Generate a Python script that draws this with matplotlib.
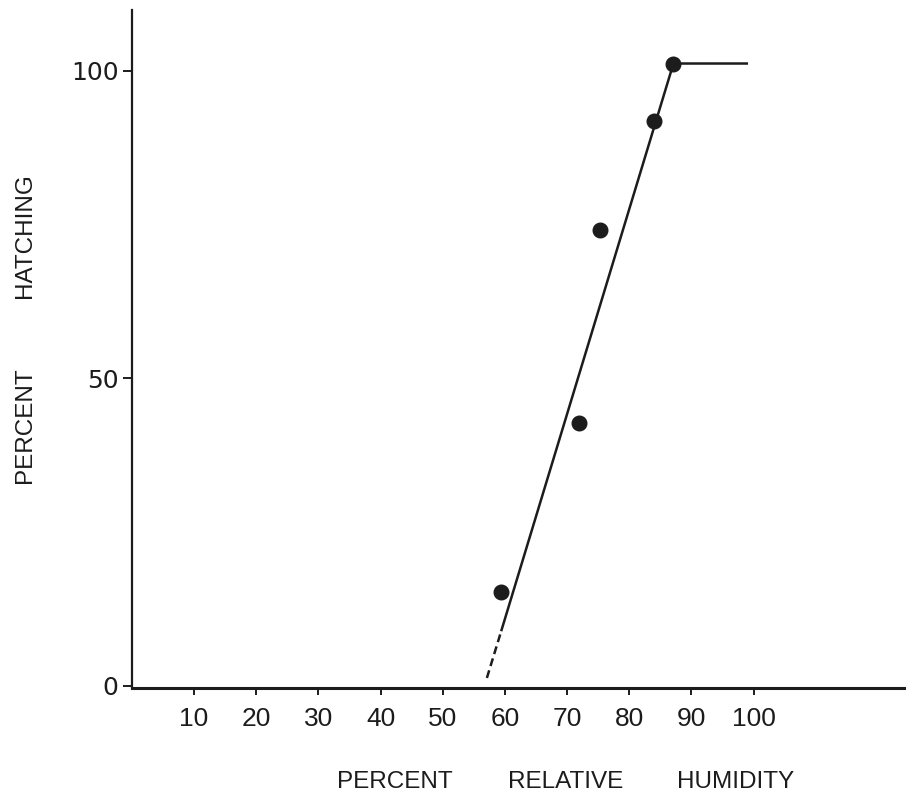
import matplotlib.pyplot as plt

# measured hatching at each relative humidity
humidity = [59.4, 71.9, 75.3, 84.0, 87.1]
hatching = [15.2, 42.8, 74.1, 91.9, 101.2]

# fitted response: extrapolated start, rising line, plateau
extrap_x = [57.1, 59.4]
extrap_y = [1.3, 8.9]
trend_x = [59.4, 87.1, 99.1]
trend_y = [8.9, 101.2, 101.2]

x_ticks = [10, 20, 30, 40, 50, 60, 70, 80, 90, 100]
y_ticks = [0, 50, 100]

W, H = 906, 801
fig = plt.figure(figsize=(W / 100, H / 100), dpi=100)
ax = fig.add_axes([131.8 / W, (H - 688) / H, (W - 131.8) / W, (688 - 10) / H])

ink = '#1c1c1c'
ax.plot(extrap_x, extrap_y, color=ink, lw=1.8, dashes=(3.2, 1.8))
ax.plot(trend_x, trend_y, color=ink, lw=1.8, solid_capstyle='butt')
ax.plot(humidity, hatching, 'o', color=ink, markersize=10.5, zorder=3)

ax.set_xlim(0, 124.5)
ax.set_ylim(-0.33, 109.9)

for side in ['top', 'right']:
    ax.spines[side].set_visible(False)
ax.spines['left'].set_linewidth(1.6)
ax.spines['bottom'].set_linewidth(2.2)
ax.spines['left'].set_color(ink)
ax.spines['bottom'].set_color(ink)

ax.set_xticks(x_ticks)
ax.set_xticklabels([str(v) for v in x_ticks], family='Liberation Sans', fontsize=19, color=ink)
ax.set_yticks(y_ticks)
ax.set_yticklabels([str(v) for v in y_ticks], family='DejaVu Sans', fontsize=18, color=ink)
ax.tick_params(axis='x', direction='out', length=5, width=1.4, pad=9, color=ink)
ax.tick_params(axis='y', direction='out', length=6.5, width=1.4, pad=3, color=ink)

words_font = ['Liberation Sans Narrow', 'Liberation Sans']
for word, px in [('PERCENT', 395), ('RELATIVE', 566), ('HUMIDITY', 736)]:
    fig.text(px / W, 1 - 782 / H, word, family=words_font, fontsize=17.5,
             ha='center', va='center', color=ink)
for word, py in [('HATCHING', 236), ('PERCENT', 425)]:
    fig.text(25 / W, 1 - py / H, word, family=words_font, fontsize=17.5,
             rotation=90, ha='center', va='center', color=ink)

fig.savefig('out.png', dpi=100, facecolor='white')
